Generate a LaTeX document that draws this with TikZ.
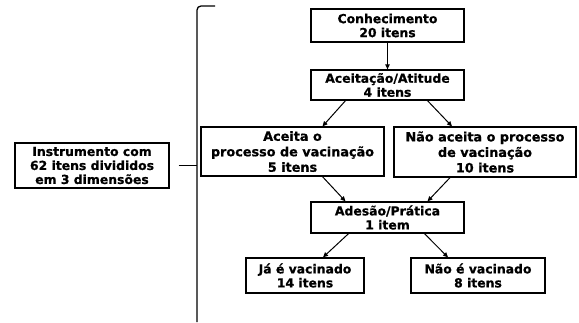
\documentclass[tikz,border=0pt]{standalone}
\usepackage{fontspec}
\setmainfont{DejaVu Sans}[BoldFeatures={FakeBold=0.8}]
\usetikzlibrary{calc}
\usetikzlibrary{arrows.meta}

\begin{document}
\begin{tikzpicture}[x=1pt, y=-1pt,
		box/.style={draw, line width=1.3pt, align=center, inner sep=0pt, font=\bfseries\fontsize{12.4}{14}\selectfont},
		tallbox/.style={box, font=\bfseries\fontsize{12.8}{15.5}\selectfont},
		link/.style={-{Triangle[length=5pt, width=4.5pt]}, line width=1pt}]
				\useasboundingbox (0,0) rectangle (579,322);

				% nodes
				\node[box, minimum width=154, minimum height=45] (instr) at (92,165.5) {Instrumento com\\62 itens divididos\\em 3 dimensões};

				\node[box, minimum width=153, minimum height=33] (conh) at (387.5,25.5) {Conhecimento\\20 itens};
				\node[box, minimum width=153, minimum height=30] (atit) at (387.5,85) {Aceitação/Atitude\\4 itens};

				\node[tallbox, minimum width=183, minimum height=49] (aceita) at (292.5,151.5) {Aceita o\\processo de vacinação\\5 itens};
				\node[tallbox, minimum width=182, minimum height=50] (naoaceita) at (485,152) {Não aceita o processo\\de vacinação\\10 itens};

				\node[box, minimum width=153, minimum height=31] (adesao) at (387.5,217.5) {Adesão/Prática\\1 item};

				\node[box, minimum width=118, minimum height=35] (vacinado) at (305,275.5) {Já é vacinado\\14 itens};
				\node[box, minimum width=134, minimum height=35] (naovacinado) at (478,275.5) {Não é vacinado\\8 itens};

				% brace
				\coordinate (bracetop) at (215,6);
				\coordinate (bracetip) at (197,165.5);
				\coordinate (bracebot) at (197,322);
				\draw[line width=1.3pt, rounded corners=4pt] (bracetop) -- (bracetop -| bracetip) -- (bracebot);
				\draw[line width=1.3pt, shorten <=9pt] (instr.east) -- (bracetip);

				% edges
				\draw[link] (conh.south) -- (atit.north);

				\draw[link] ($(atit.south) + (-42,0)$) -- ($(aceita.north) + (30,0)$);
				\draw[link] ($(atit.south) + (40,0)$) -- ($(naoaceita.north) + (-33,0)$);

				\draw[link] ($(aceita.south) + (30,0)$) -- ($(adesao.north) + (-42,0)$);
				\draw[link] ($(naoaceita.south) + (-35,0)$) -- ($(adesao.north) + (40,0)$);

				\draw[link] ($(adesao.south) + (-39,0)$) -- ($(vacinado.north) + (18,0)$);
				\draw[link] ($(adesao.south) + (37,0)$) -- ($(naovacinado.north) + (-30,0)$);
\end{tikzpicture}
\end{document}
